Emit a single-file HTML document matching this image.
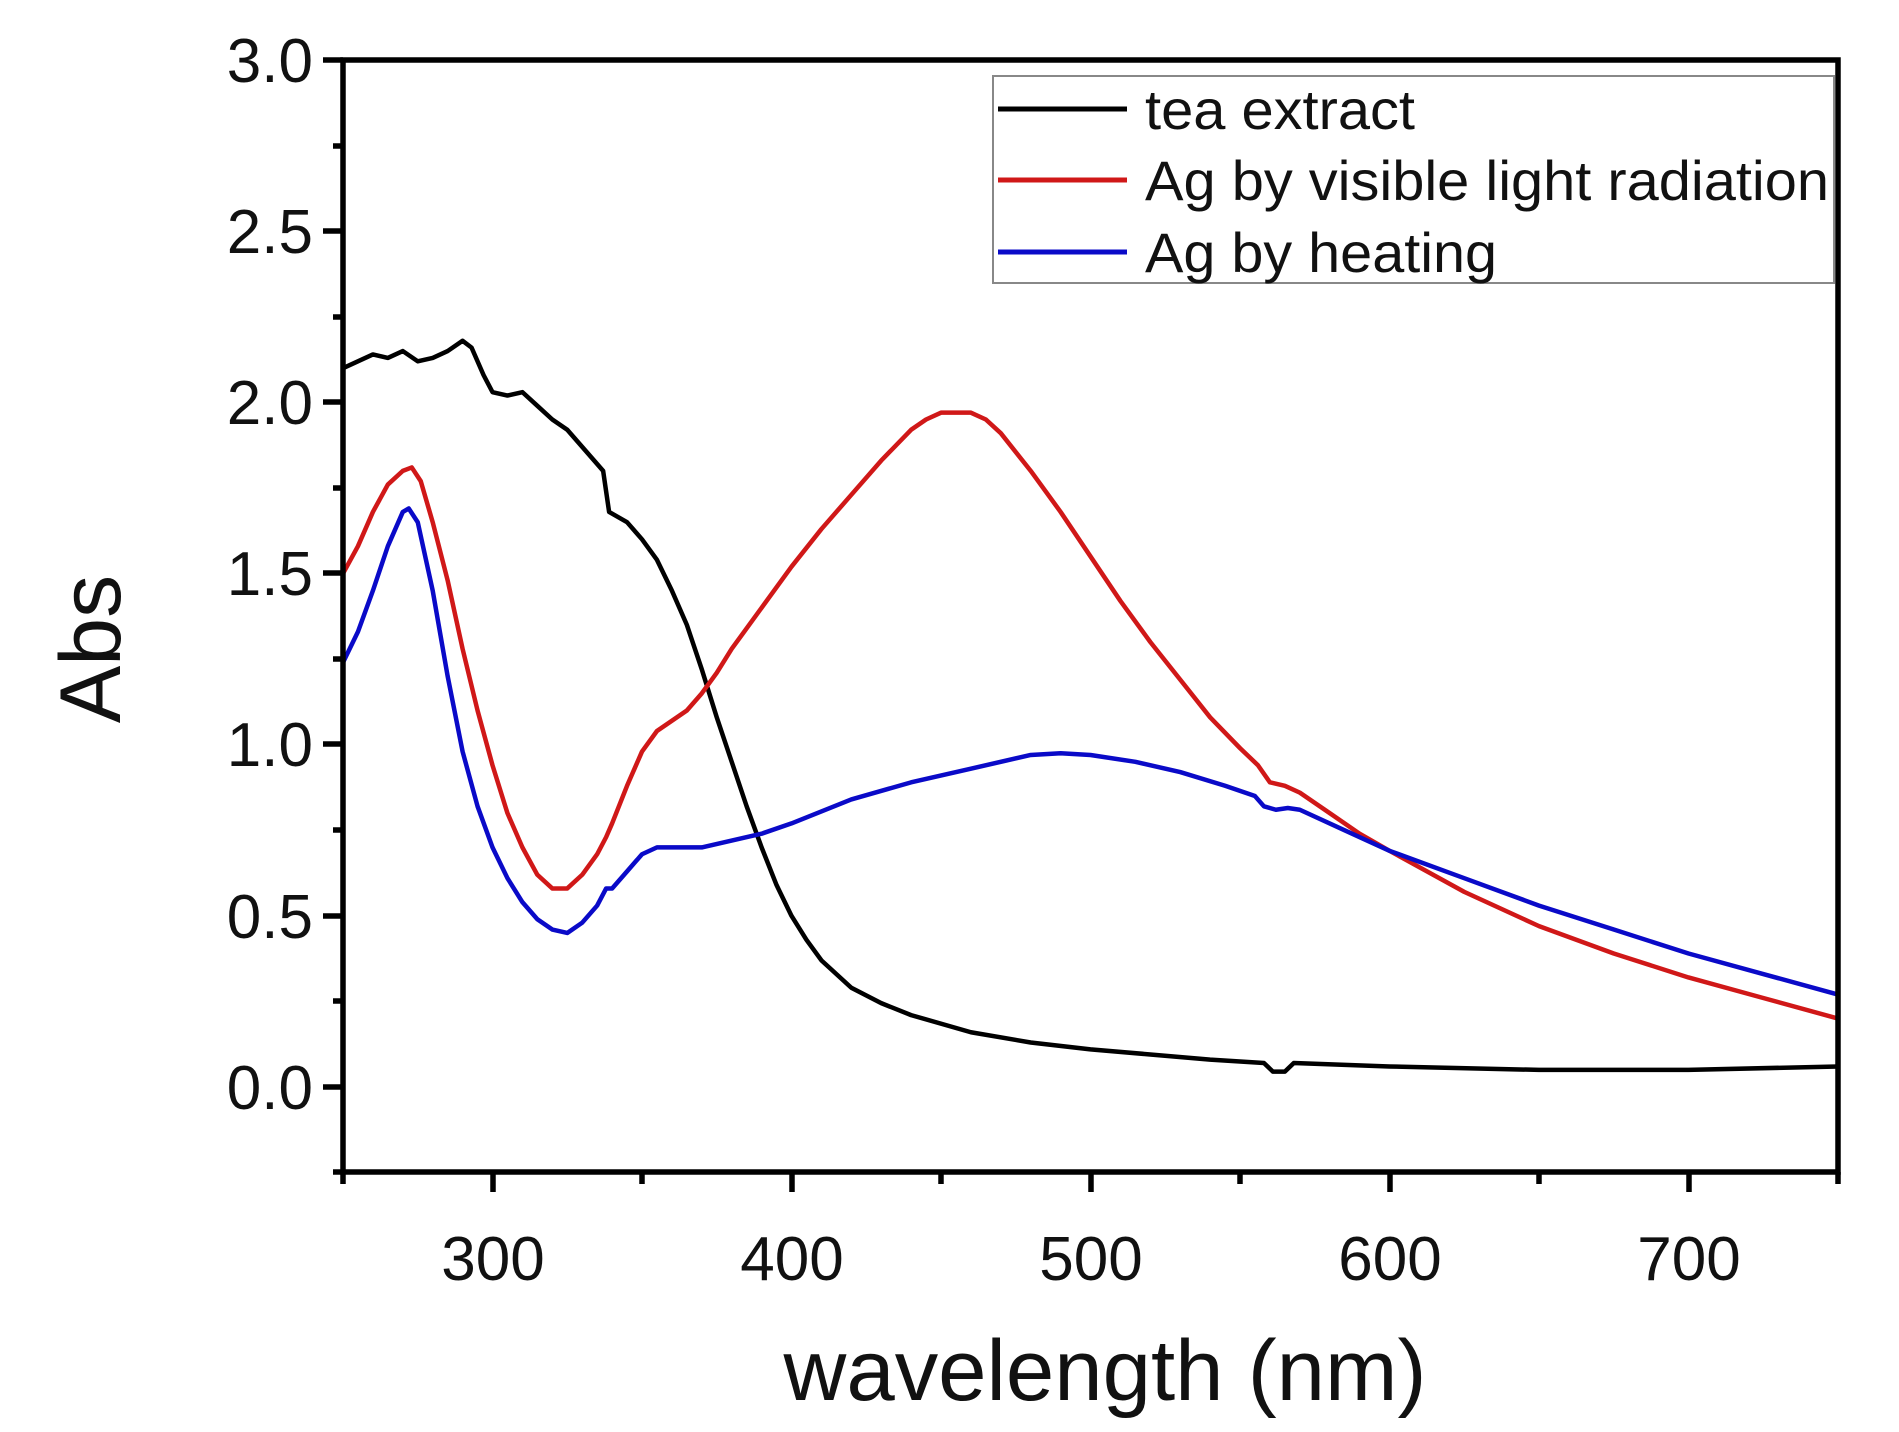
<!DOCTYPE html>
<html><head><meta charset="utf-8"><style>html,body{margin:0;padding:0;background:#fff}svg{display:block}</style></head>
<body>
<svg width="1899" height="1432" viewBox="0 0 1899 1432" xmlns="http://www.w3.org/2000/svg" font-family="Liberation Sans, Arial, sans-serif">
<rect width="1899" height="1432" fill="#fff"/>
<g transform="matrix(2.99 0 0 -342.3 -404.5 1087)" fill="none" stroke-width="4.5" stroke-linejoin="round">
<polyline vector-effect="non-scaling-stroke" stroke="#000" points="250,2.10 255,2.12 260,2.14 265,2.13 270,2.15 275,2.12 280,2.13 285,2.15 290,2.18 293,2.16 297,2.08 300,2.03 305,2.02 310,2.03 315,1.99 320,1.95 325,1.92 330,1.87 335,1.82 337,1.80 339,1.68 345,1.65 350,1.60 355,1.54 360,1.45 365,1.35 370,1.22 375,1.08 380,0.95 385,0.82 390,0.70 395,0.59 400,0.50 405,0.43 410,0.37 420,0.29 430,0.245 440,0.21 460,0.16 480,0.13 500,0.11 520,0.095 540,0.08 558,0.07 561,0.045 565,0.045 568,0.07 600,0.06 650,0.05 700,0.05 750,0.06"/>
<polyline vector-effect="non-scaling-stroke" stroke="#d01818" points="250,1.50 255,1.58 260,1.68 265,1.76 270,1.80 273,1.81 276,1.77 280,1.65 285,1.48 290,1.28 295,1.10 300,0.94 305,0.80 310,0.70 315,0.62 320,0.58 325,0.58 330,0.62 335,0.68 338,0.73 340,0.77 345,0.88 350,0.98 355,1.04 360,1.07 365,1.10 370,1.15 375,1.21 380,1.28 390,1.40 400,1.52 410,1.63 420,1.73 430,1.83 440,1.92 445,1.95 450,1.97 460,1.97 465,1.95 470,1.91 480,1.80 490,1.68 500,1.55 510,1.42 520,1.30 530,1.19 540,1.08 550,0.99 556,0.94 560,0.89 565,0.88 570,0.86 580,0.80 590,0.74 600,0.69 625,0.57 650,0.47 675,0.39 700,0.32 725,0.26 750,0.20"/>
<polyline vector-effect="non-scaling-stroke" stroke="#0a0ac8" points="250,1.24 255,1.33 260,1.45 265,1.58 270,1.68 272,1.69 275,1.65 280,1.45 285,1.20 290,0.98 295,0.82 300,0.70 305,0.61 310,0.54 315,0.49 320,0.46 325,0.45 330,0.48 335,0.53 338,0.58 340,0.58 345,0.63 350,0.68 355,0.70 360,0.70 370,0.70 380,0.72 390,0.74 400,0.77 420,0.84 440,0.89 460,0.93 480,0.97 490,0.975 500,0.97 515,0.95 530,0.92 545,0.88 555,0.85 558,0.82 562,0.81 566,0.815 570,0.81 585,0.75 600,0.69 625,0.61 650,0.53 675,0.46 700,0.39 725,0.33 750,0.27"/>
</g>
<g stroke="#000" stroke-width="5.5" fill="none">
<rect x="343" y="60" width="1495" height="1112"/>
<path d="M343 60h-20M343 146h-10M343 231h-20M343 317h-10M343 402h-20M343 488h-10M343 573h-20M343 659h-10M343 744h-20M343 830h-10M343 916h-20M343 1001h-10M343 1087h-20M343 1172h-10"/>
<path d="M343 1172v12M493 1172v20M642 1172v12M792 1172v20M941 1172v12M1091 1172v20M1240 1172v12M1390 1172v20M1539 1172v12M1689 1172v20M1838 1172v12"/>
</g>
<g font-size="62" fill="#111" text-anchor="end">
<text x="313" y="82">3.0</text><text x="313" y="253">2.5</text><text x="313" y="424">2.0</text>
<text x="313" y="595">1.5</text><text x="313" y="766">1.0</text><text x="313" y="938">0.5</text><text x="313" y="1109">0.0</text>
</g>
<g font-size="62" fill="#111" text-anchor="middle">
<text x="493" y="1280">300</text><text x="792" y="1280">400</text><text x="1091" y="1280">500</text>
<text x="1390" y="1280">600</text><text x="1689" y="1280">700</text>
</g>
<text x="1105" y="1400" font-size="86" text-anchor="middle" fill="#111" textLength="643" lengthAdjust="spacingAndGlyphs">wavelength (nm)</text>
<text transform="translate(120,649) rotate(-90)" font-size="86" text-anchor="middle" fill="#111">Abs</text>
<rect x="993" y="76" width="841" height="207" fill="#fff" stroke="#888" stroke-width="2"/>
<g stroke-width="5">
<line x1="998" y1="109" x2="1127" y2="109" stroke="#000"/>
<line x1="998" y1="180" x2="1127" y2="180" stroke="#d01818"/>
<line x1="998" y1="252" x2="1127" y2="252" stroke="#0a0ac8"/>
</g>
<g font-size="56" fill="#111">
<text x="1145" y="129" textLength="270" lengthAdjust="spacingAndGlyphs">tea extract</text>
<text x="1145" y="200" textLength="684" lengthAdjust="spacingAndGlyphs">Ag by visible light radiation</text>
<text x="1145" y="272" textLength="352" lengthAdjust="spacingAndGlyphs">Ag by heating</text>
</g>
</svg>
</body></html>
